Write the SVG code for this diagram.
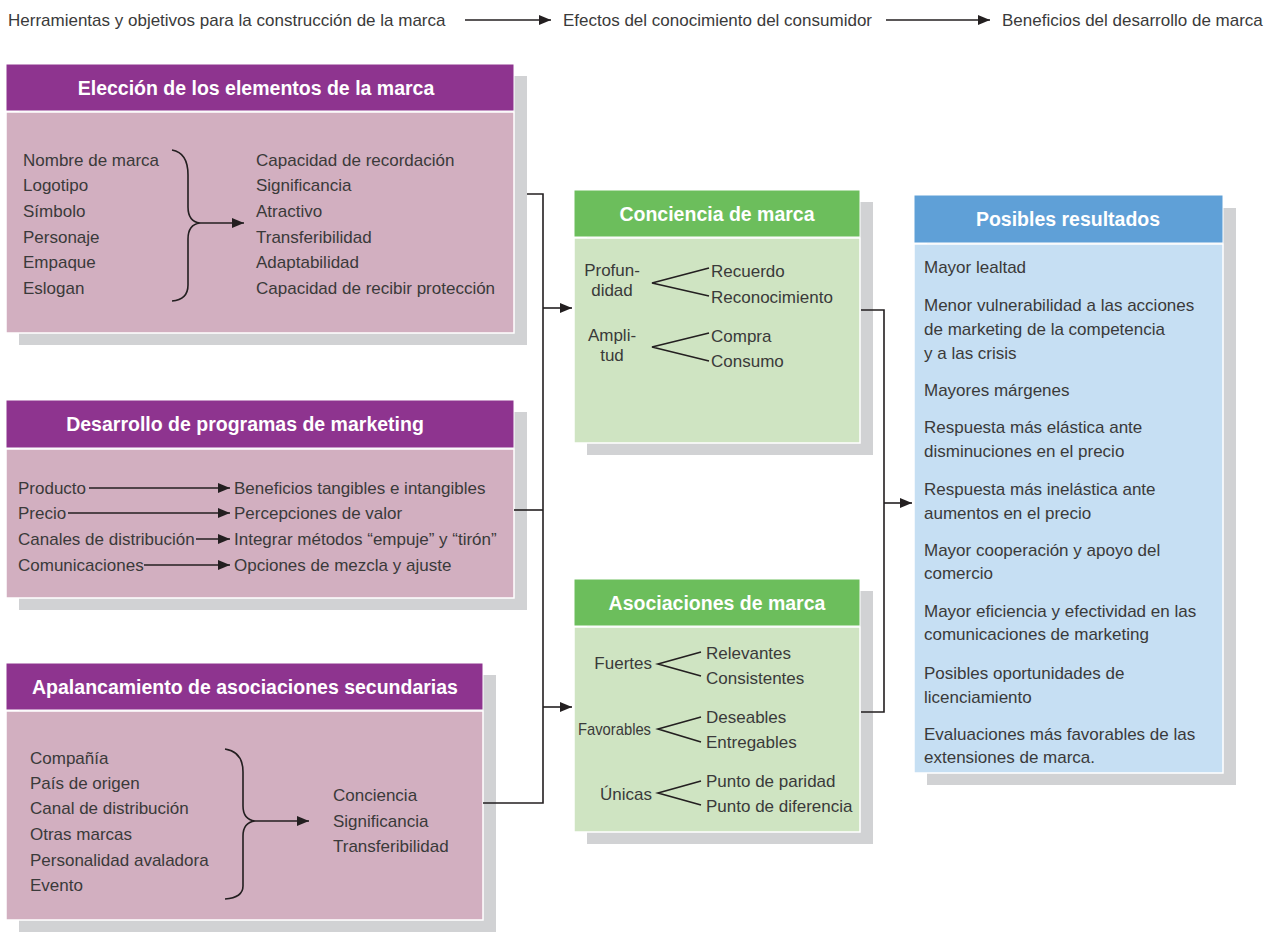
<svg xmlns="http://www.w3.org/2000/svg" width="1272" height="937" viewBox="0 0 1272 937">
<defs>
<marker id="ah" viewBox="0 0 12 10" refX="12" refY="5" markerWidth="12" markerHeight="10" markerUnits="userSpaceOnUse" orient="auto"><path d="M0,0 L12,5 L0,10 Z" fill="#231f20"/></marker>
<style>
text{font-family:"Liberation Sans",Arial,sans-serif;font-size:17px;fill:#3a3a3a}
.t{font-weight:bold;font-size:19.5px;fill:#fff;text-anchor:middle}
.sh{fill:#d1d2d4}
.ph{fill:#8e348f;stroke:#fff;stroke-width:1}
.pb{fill:#d2afc0;stroke:#fff;stroke-width:1.5}
.gh{fill:#6cbe5c;stroke:#fff;stroke-width:1}
.gb{fill:#cfe4c2;stroke:#fff;stroke-width:1.5}
.bh{fill:#5fa0d7;stroke:#fff;stroke-width:1}
.bb{fill:#c6dff3;stroke:#fff;stroke-width:1.5}
.ln{fill:none;stroke:#231f20;stroke-width:1.6}
.ar{fill:none;stroke:#231f20;stroke-width:1.6;marker-end:url(#ah)}
.m{text-anchor:middle}
.e{text-anchor:end}
</style>
</defs>
<rect width="1272" height="937" fill="#fff"/>

<g id="top-header">
<text x="8" y="26">Herramientas y objetivos para la construcción de la marca</text>
<line class="ar" x1="465" y1="20" x2="551" y2="20"/>
<text x="563" y="26">Efectos del conocimiento del consumidor</text>
<line class="ar" x1="886" y1="20" x2="990" y2="20"/>
<text x="1002" y="26">Beneficios del desarrollo de marca</text>
</g>

<g id="eleccion">
<rect class="sh" x="19" y="76" width="508" height="269"/>
<rect class="ph" x="6" y="64" width="508" height="47"/>
<rect class="pb" x="6" y="112" width="508" height="221"/>
<text class="t" x="256" y="95">Elección de los elementos de la marca</text>
<text x="23" y="166">Nombre de marca</text>
<text x="23" y="191">Logotipo</text>
<text x="23" y="217">Símbolo</text>
<text x="23" y="243">Personaje</text>
<text x="23" y="268">Empaque</text>
<text x="23" y="294">Eslogan</text>
<path class="ln" d="M172,150 C184,152 188,162 188,175 L188,207 C188,217 192,222 200,223 C192,224 188,229 188,239 L188,285 C188,294 184,300 172,301"/>
<line class="ar" x1="200" y1="223" x2="244" y2="223"/>
<text x="256" y="166">Capacidad de recordación</text>
<text x="256" y="191">Significancia</text>
<text x="256" y="217">Atractivo</text>
<text x="256" y="243">Transferibilidad</text>
<text x="256" y="268">Adaptabilidad</text>
<text x="256" y="294">Capacidad de recibir protección</text>
</g>

<g id="desarrollo">
<rect class="sh" x="19" y="412" width="508" height="198"/>
<rect class="ph" x="6" y="400" width="508" height="48"/>
<rect class="pb" x="6" y="449" width="508" height="149"/>
<text class="t" x="245" y="431">Desarrollo de programas de marketing</text>
<text x="18" y="494">Producto</text>
<text x="18" y="519">Precio</text>
<text x="18" y="545">Canales de distribución</text>
<text x="18" y="571">Comunicaciones</text>
<line class="ar" x1="89" y1="488" x2="230" y2="488"/>
<line class="ar" x1="68" y1="513" x2="230" y2="513"/>
<line class="ar" x1="196" y1="539" x2="230" y2="539"/>
<line class="ar" x1="144" y1="565" x2="230" y2="565"/>
<text x="234" y="494">Beneficios tangibles e intangibles</text>
<text x="234" y="519">Percepciones de valor</text>
<text x="234" y="545">Integrar métodos “empuje” y “tirón”</text>
<text x="234" y="571">Opciones de mezcla y ajuste</text>
</g>

<g id="apalancamiento">
<rect class="sh" x="19" y="675" width="477" height="257"/>
<rect class="ph" x="6" y="663" width="477" height="47"/>
<rect class="pb" x="6" y="711" width="477" height="209"/>
<text class="t" x="245" y="694">Apalancamiento de asociaciones secundarias</text>
<text x="30" y="764">Compañía</text>
<text x="30" y="789">País de origen</text>
<text x="30" y="814">Canal de distribución</text>
<text x="30" y="840">Otras marcas</text>
<text x="30" y="866">Personalidad avaladora</text>
<text x="30" y="891">Evento</text>
<path class="ln" d="M225,749 C238,751 243,760 243,772 L243,806 C243,815 247,820 255,821 C247,822 243,827 243,836 L243,886 C243,893 238,898 225,899"/>
<line class="ar" x1="255" y1="821" x2="309" y2="821"/>
<text x="333" y="801">Conciencia</text>
<text x="333" y="827">Significancia</text>
<text x="333" y="852">Transferibilidad</text>
</g>

<g id="conciencia">
<rect class="sh" x="587" y="202" width="286" height="253"/>
<rect class="gh" x="574" y="190" width="286" height="47"/>
<rect class="gb" x="574" y="238" width="286" height="205"/>
<text class="t" x="717" y="221">Conciencia de marca</text>
<text class="m" x="612" y="276">Profun-</text>
<text class="m" x="612" y="296">didad</text>
<path class="ln" d="M709,268 L652,283 L709,296"/>
<text x="711" y="277">Recuerdo</text>
<text x="711" y="303">Reconocimiento</text>
<text class="m" x="612" y="341">Ampli-</text>
<text class="m" x="612" y="361">tud</text>
<path class="ln" d="M709,333 L652,347 L709,361"/>
<text x="711" y="342">Compra</text>
<text x="711" y="367">Consumo</text>
</g>

<g id="asociaciones">
<rect class="sh" x="587" y="591" width="286" height="253"/>
<rect class="gh" x="574" y="579" width="286" height="47"/>
<rect class="gb" x="574" y="627" width="286" height="205"/>
<text class="t" x="717" y="610">Asociaciones de marca</text>
<text class="e" x="652" y="669">Fuertes</text>
<path class="ln" d="M701,652 L658,664 L701,676"/>
<text x="706" y="659">Relevantes</text>
<text x="706" y="684">Consistentes</text>
<text x="578" y="735" textLength="73" lengthAdjust="spacingAndGlyphs">Favorables</text>
<path class="ln" d="M701,717 L658,729 L701,742"/>
<text x="706" y="723">Deseables</text>
<text x="706" y="748">Entregables</text>
<text class="e" x="652" y="800">Únicas</text>
<path class="ln" d="M701,781 L658,793 L701,805"/>
<text x="706" y="787">Punto de paridad</text>
<text x="706" y="812">Punto de diferencia</text>
</g>

<g id="resultados">
<rect class="sh" x="927" y="208" width="309" height="577"/>
<rect class="bh" x="914" y="195" width="309" height="48"/>
<rect class="bb" x="914" y="244" width="309" height="529"/>
<text class="t" x="1068" y="226">Posibles resultados</text>
<text x="924" y="273">Mayor lealtad</text>
<text x="924" y="311">Menor vulnerabilidad a las acciones</text>
<text x="924" y="335">de marketing de la competencia</text>
<text x="924" y="359">y a las crisis</text>
<text x="924" y="396">Mayores márgenes</text>
<text x="924" y="433">Respuesta más elástica ante</text>
<text x="924" y="457">disminuciones en el precio</text>
<text x="924" y="495">Respuesta más inelástica ante</text>
<text x="924" y="519">aumentos en el precio</text>
<text x="924" y="556">Mayor cooperación y apoyo del</text>
<text x="924" y="579">comercio</text>
<text x="924" y="617">Mayor eficiencia y efectividad en las</text>
<text x="924" y="640">comunicaciones de marketing</text>
<text x="924" y="679">Posibles oportunidades de</text>
<text x="924" y="703">licenciamiento</text>
<text x="924" y="740">Evaluaciones más favorables de las</text>
<text x="924" y="763">extensiones de marca.</text>
</g>

<g id="connectors">
<polyline class="ln" points="527,194 543,194 543,803 483,803"/>
<line class="ln" x1="514" y1="510" x2="543" y2="510"/>
<line class="ar" x1="543" y1="308" x2="572" y2="308"/>
<line class="ar" x1="543" y1="707" x2="572" y2="707"/>
<polyline class="ln" points="861,310 884,310 884,712 861,712"/>
<line class="ar" x1="884" y1="503" x2="912" y2="503"/>
</g>
</svg>
